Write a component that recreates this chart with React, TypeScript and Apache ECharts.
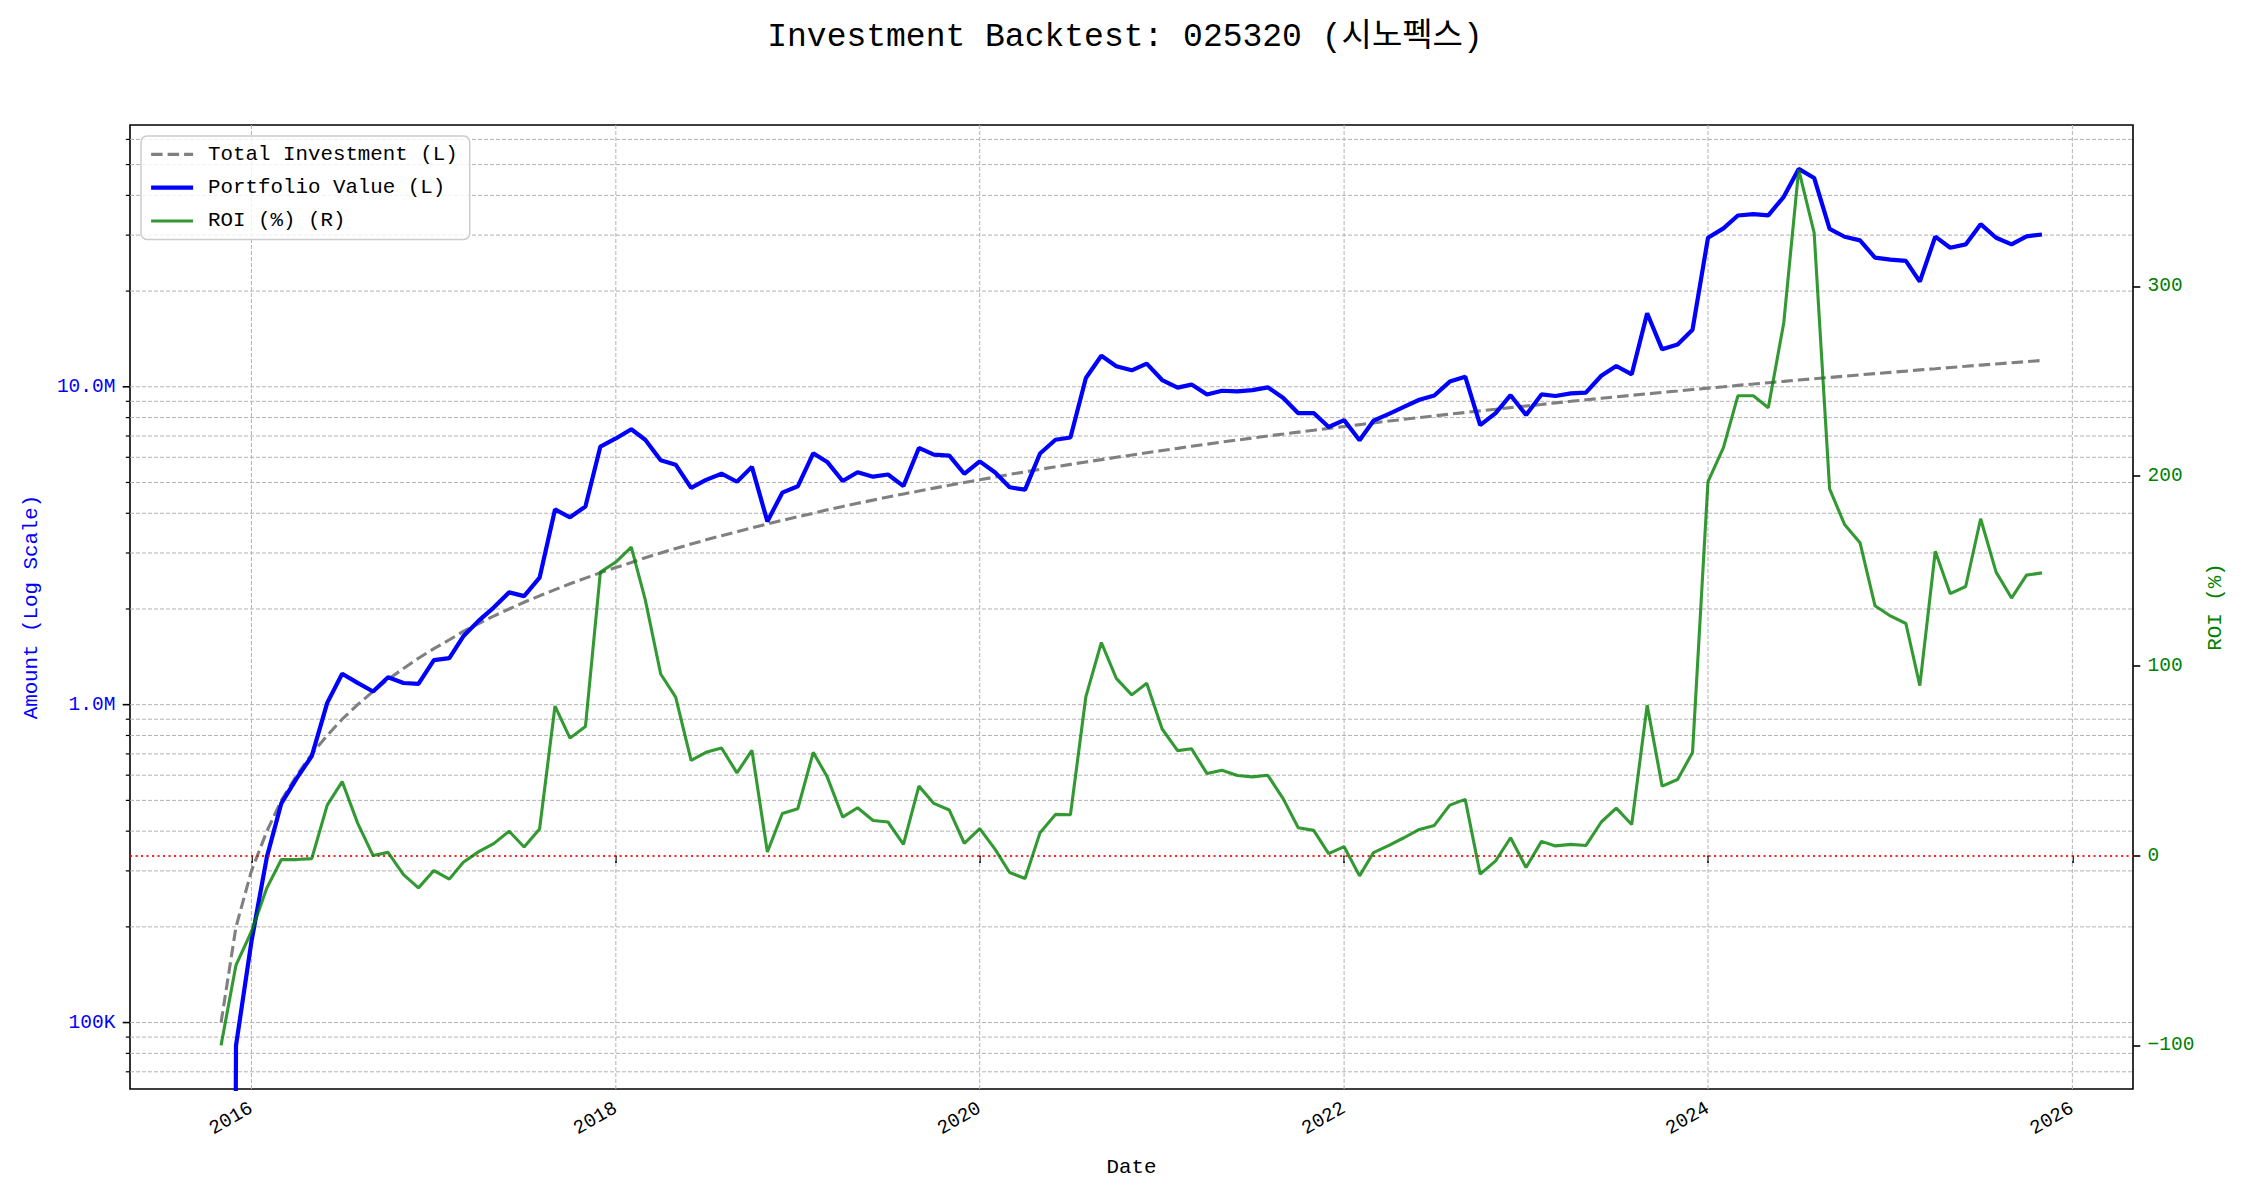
import React, { useEffect, useRef } from "react";
import * as echarts from "echarts";

const months = [
  "2015-11", "2015-12",
  "2016-01", "2016-02", "2016-03", "2016-04", "2016-05", "2016-06", "2016-07", "2016-08", "2016-09", "2016-10", "2016-11", "2016-12",
  "2017-01", "2017-02", "2017-03", "2017-04", "2017-05", "2017-06", "2017-07", "2017-08", "2017-09", "2017-10", "2017-11", "2017-12",
  "2018-01", "2018-02", "2018-03", "2018-04", "2018-05", "2018-06", "2018-07", "2018-08", "2018-09", "2018-10", "2018-11", "2018-12",
  "2019-01", "2019-02", "2019-03", "2019-04", "2019-05", "2019-06", "2019-07", "2019-08", "2019-09", "2019-10", "2019-11", "2019-12",
  "2020-01", "2020-02", "2020-03", "2020-04", "2020-05", "2020-06", "2020-07", "2020-08", "2020-09", "2020-10", "2020-11", "2020-12",
  "2021-01", "2021-02", "2021-03", "2021-04", "2021-05", "2021-06", "2021-07", "2021-08", "2021-09", "2021-10", "2021-11", "2021-12",
  "2022-01", "2022-02", "2022-03", "2022-04", "2022-05", "2022-06", "2022-07", "2022-08", "2022-09", "2022-10", "2022-11", "2022-12",
  "2023-01", "2023-02", "2023-03", "2023-04", "2023-05", "2023-06", "2023-07", "2023-08", "2023-09", "2023-10", "2023-11", "2023-12",
  "2024-01", "2024-02", "2024-03", "2024-04", "2024-05", "2024-06", "2024-07", "2024-08", "2024-09", "2024-10", "2024-11", "2024-12",
  "2025-01", "2025-02", "2025-03", "2025-04", "2025-05", "2025-06", "2025-07", "2025-08", "2025-09", "2025-10", "2025-11",
];

const totalInvestment = [
  100000, 200000,
  300000, 400000, 500000, 600000, 700000, 800000, 900000, 1000000, 1100000, 1200000, 1300000, 1400000,
  1500000, 1600000, 1700000, 1800000, 1900000, 2000000, 2100000, 2200000, 2300000, 2400000, 2500000, 2600000,
  2700000, 2800000, 2900000, 3000000, 3100000, 3200000, 3300000, 3400000, 3500000, 3600000, 3700000, 3800000,
  3900000, 4000000, 4100000, 4200000, 4300000, 4400000, 4500000, 4600000, 4700000, 4800000, 4900000, 5000000,
  5100000, 5200000, 5300000, 5400000, 5500000, 5600000, 5700000, 5800000, 5900000, 6000000, 6100000, 6200000,
  6300000, 6400000, 6500000, 6600000, 6700000, 6800000, 6900000, 7000000, 7100000, 7200000, 7300000, 7400000,
  7500000, 7600000, 7700000, 7800000, 7900000, 8000000, 8100000, 8200000, 8300000, 8400000, 8500000, 8600000,
  8700000, 8800000, 8900000, 9000000, 9100000, 9200000, 9300000, 9400000, 9500000, 9600000, 9700000, 9800000,
  9900000, 10000000, 10100000, 10200000, 10300000, 10400000, 10500000, 10600000, 10700000, 10800000, 10900000, 11000000,
  11100000, 11200000, 11300000, 11400000, 11500000, 11600000, 11700000, 11800000, 11900000, 12000000, 12100000,
];

const roiPct = [
  -100, -57.7,
  -40, -17, -2.1, -2.1, -1.6, 26.6, 39, 17.1, 0, 1.7, -10, -17,
  -7.9, -12.4, -3.5, 2.1, 6.3, 12.8, 4.5, 14, 78.8, 61.9, 68, 149.4,
  154.7, 162.6, 134.9, 95.7, 83.5, 50.2, 54.4, 56.7, 43.6, 55.5, 1.9, 22.2,
  24.7, 54.4, 41.5, 20.3, 25.2, 18.5, 17.7, 5.9, 36.6, 27.5, 24, 6.5,
  14.2, 3.3, -8.9, -12.1, 12.1, 21.7, 21.5, 83.8, 112.3, 93.4, 84.7, 90.8,
  66.7, 55.3, 56.3, 43.2, 45, 42.2, 41.5, 42.3, 29.9, 14.7, 13.3, 1,
  4.7, -10.7, 1.6, 5.4, 9.4, 13.8, 15.9, 26.6, 29.6, -9.8, -2.8, 9.4,
  -6.3, 7.5, 5.1, 5.9, 5.3, 17.7, 25, 16.4, 79.3, 36.6, 40.1, 54.3,
  197.1, 215, 242.3, 242.3, 236, 280.7, 361.5, 328.1, 193.2, 174.5, 164.9, 131.7,
  126.3, 122.3, 89.6, 160.4, 138, 141.8, 177.5, 149.4, 135.7, 147.8, 149,
];

const leftMajorTicks = [100000, 1000000, 10000000];
const leftGridValues = [
  70000, 80000, 90000,
  100000, 200000, 300000, 400000, 500000, 600000, 700000, 800000, 900000,
  1000000, 2000000, 3000000, 4000000, 5000000, 6000000, 7000000, 8000000, 9000000,
  10000000, 20000000, 30000000, 40000000, 50000000, 60000000,
];
const rightTicks = [-100, 0, 100, 200, 300];
const xTickYears = [2016, 2018, 2020, 2022, 2024, 2026];

const FONT = '"Liberation Mono", "Noto Sans CJK KR", monospace';
const GRID_COLOR = "#b3b3b3";

export default function App() {
  const ref = useRef<HTMLDivElement>(null);

  useEffect(() => {
    document.body.style.margin = "0";
    const chart = echarts.init(ref.current!, null, { renderer: "svg" });

    const ts = months.map((m) => {
      const [y, mo] = m.split("-").map(Number);
      return Date.UTC(y, mo - 1, 1);
    });
    const span = ts[ts.length - 1] - ts[0];
    const xMin = ts[0] - 0.05 * span;
    const xMax = ts[ts.length - 1] + 0.05 * span;
    const yearTs = xTickYears.map((y) => Date.UTC(y, 0, 1));

    const investData = ts.map((t, i) => [t, totalInvestment[i]]);
    const portfolioData = ts.map((t, i) => [
      t,
      Math.max(totalInvestment[i] * (1 + roiPct[i] / 100), 1e-6),
    ]);
    const roiData = ts.map((t, i) => [t, roiPct[i]]);

    const isPow10 = (v: number) => {
      const l = Math.log10(v);
      return Math.abs(l - Math.round(l)) < 1e-6;
    };

    const option: any = {
      animation: false,
      backgroundColor: "#ffffff",
      title: {
        text: "Investment Backtest: 025320 (시노펙스)",
        left: "center",
        top: 16,
        textStyle: {
          fontFamily: FONT,
          fontSize: 33,
          fontWeight: "normal",
          color: "#000",
        },
      },
      grid: {
        left: 130,
        right: 117,
        top: 125,
        bottom: 111,
        show: true,
        borderColor: "#000",
        borderWidth: 1.6,
        backgroundColor: "transparent",
      },
      legend: {
        data: [
          { name: "Total Investment (L)", lineStyle: { width: 3.1 } },
          { name: "Portfolio Value (L)", lineStyle: { width: 4.2 } },
          { name: "ROI (%) (R)", lineStyle: { width: 3.1 } },
        ],
        orient: "vertical",
        left: 141,
        top: 136,
        padding: [8, 12, 8, 8],
        itemWidth: 42,
        itemHeight: 20,
        itemGap: 12.5,
        backgroundColor: "rgba(255,255,255,0.8)",
        borderColor: "#cccccc",
        borderWidth: 1.5,
        borderRadius: 6,
        itemStyle: {
          color: "rgba(0,0,0,0)",
          borderColor: "rgba(0,0,0,0)",
          borderWidth: 0,
        },
        textStyle: {
          fontFamily: FONT,
          fontSize: 20.8,
          color: "#000",
          padding: [0, 0, 0, 10],
        },
        z: 20,
      },
      xAxis: {
        type: "value",
        min: xMin,
        max: xMax,
        name: "Date",
        nameLocation: "middle",
        nameGap: 68,
        nameTextStyle: { fontFamily: FONT, fontSize: 20.8, color: "#000" },
        axisLine: { show: false },
        axisTick: {
          show: true,
          customValues: yearTs,
          length: 7.3,
          lineStyle: { color: "#000", width: 1.6 },
        },
        axisLabel: {
          customValues: yearTs,
          rotate: 30,
          margin: 18,
          fontFamily: FONT,
          fontSize: 19.5,
          color: "#000",
          formatter: (v: number) => String(new Date(v).getUTCFullYear()),
        },
        splitLine: { show: false },
      },
      yAxis: [
        {
          type: "log",
          logBase: 10,
          min: 61800,
          max: 66600000,
          position: "left",
          name: "Amount (Log Scale)",
          nameLocation: "middle",
          nameRotate: 90,
          nameGap: 88,
          nameTextStyle: { fontFamily: FONT, fontSize: 20.8, color: "#0000ff" },
          axisLine: { show: false },
          axisTick: { show: false },
          splitLine: { show: false },
          axisLabel: {
            margin: 14.6,
            fontFamily: FONT,
            fontSize: 19.5,
            color: "#0000ff",
            showMinLabel: false,
            showMaxLabel: false,
            formatter: (v: number) => {
              if (!isPow10(v)) return "";
              const p = Math.round(Math.log10(v));
              if (p >= 6) return (Math.pow(10, p) / 1e6).toFixed(1) + "M";
              return (Math.pow(10, p) / 1e3).toFixed(0) + "K";
            },
          },
        },
        {
          type: "value",
          min: -123,
          max: 385,
          position: "right",
          name: "ROI (%)",
          nameLocation: "middle",
          nameRotate: 90,
          nameGap: 70,
          nameTextStyle: { fontFamily: FONT, fontSize: 20.8, color: "#008000" },
          axisLine: { show: false },
          axisTick: {
            show: true,
            customValues: rightTicks,
            length: 7.3,
            lineStyle: { color: "#000", width: 1.6 },
          },
          splitLine: { show: false },
          axisLabel: {
            customValues: rightTicks,
            margin: 14.6,
            fontFamily: FONT,
            fontSize: 19.5,
            color: "#008000",
            formatter: (v: number) => (v < 0 ? "\u2212" + Math.abs(v) : String(v)),
          },
        },
      ],
      series: [
        {
          type: "custom",
          name: "hgrid",
          xAxisIndex: 0,
          yAxisIndex: 0,
          silent: true,
          z: 1,
          clip: false,
          data: leftGridValues.map((v) => [ts[0], v]),
          renderItem: (params: any, api: any) => {
            const cs = params.coordSys;
            const v = api.value(1);
            const y = api.coord([api.value(0), v])[1];
            const major = leftMajorTicks.indexOf(v) >= 0;
            return {
              type: "group",
              children: [
                {
                  type: "line",
                  shape: { x1: cs.x, y1: y, x2: cs.x + cs.width, y2: y },
                  style: { stroke: GRID_COLOR, lineWidth: 1, lineDash: [4, 2] },
                },
                {
                  type: "line",
                  shape: { x1: cs.x - (major ? 7.3 : 4.2), y1: y, x2: cs.x, y2: y },
                  style: { stroke: "#000", lineWidth: major ? 1.6 : 1.2 },
                },
              ],
            };
          },
        },
        {
          type: "custom",
          name: "vgrid",
          xAxisIndex: 0,
          yAxisIndex: 0,
          silent: true,
          z: 1,
          clip: false,
          data: yearTs.map((t) => [t, 1000000]),
          renderItem: (params: any, api: any) => {
            const cs = params.coordSys;
            const x = api.coord([api.value(0), api.value(1)])[0];
            return {
              type: "line",
              shape: { x1: x, y1: cs.y, x2: x, y2: cs.y + cs.height },
              style: { stroke: GRID_COLOR, lineWidth: 1, lineDash: [4, 2] },
            };
          },
        },
        {
          type: "line",
          name: "Total Investment (L)",
          yAxisIndex: 0,
          data: investData,
          symbol: "none",
          showSymbol: false,
          z: 3,
          lineStyle: { color: "#808080", width: 3.1, type: [11.5, 5] },
          itemStyle: { color: "#808080" },
        },
        {
          type: "line",
          name: "Portfolio Value (L)",
          yAxisIndex: 0,
          data: portfolioData,
          symbol: "none",
          showSymbol: false,
          z: 4,
          lineStyle: { color: "#0000ff", width: 4.2 },
          itemStyle: { color: "#0000ff" },
        },
        {
          type: "line",
          name: "ROI (%) (R)",
          yAxisIndex: 1,
          data: roiData,
          symbol: "none",
          showSymbol: false,
          z: 5,
          lineStyle: { color: "rgba(0,128,0,0.8)", width: 3.1 },
          itemStyle: { color: "rgba(0,128,0,0.8)" },
          markLine: {
            silent: true,
            symbol: ["none", "none"],
            label: { show: false },
            lineStyle: { color: "rgba(255,0,0,0.85)", width: 2.1, type: [2.1, 3.4] },
            data: [{ yAxis: 0 }],
          },
        },
      ],
    };

    chart.setOption(option);
    return () => chart.dispose();
  }, []);

  return <div ref={ref} style={{ width: 2250, height: 1200 }} />;
}
